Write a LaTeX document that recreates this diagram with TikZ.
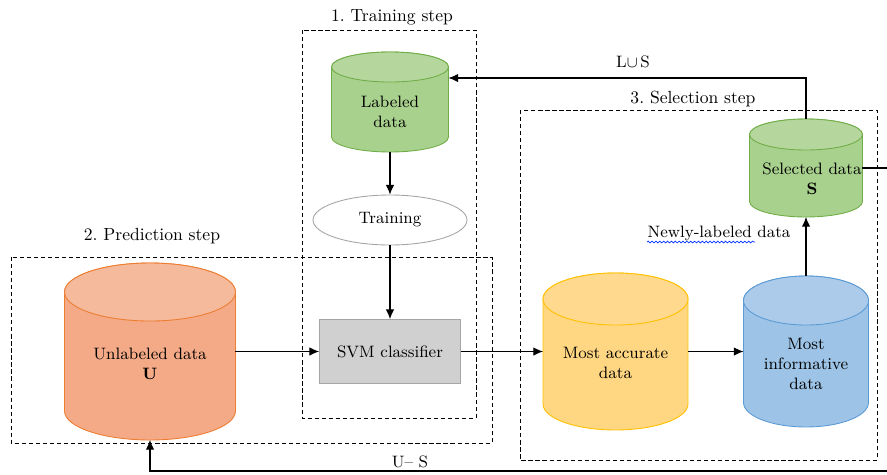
\documentclass[tikz,border=0pt]{standalone}
\usepackage{amssymb}
\usepackage{amsmath}
\usetikzlibrary{shapes.geometric}
\usetikzlibrary{arrows.meta}
\usetikzlibrary{calc}
\usetikzlibrary{decorations.pathmorphing}

\definecolor{greenbody}{RGB}{169,209,142}
\definecolor{greenend}{RGB}{181,215,158}
\definecolor{greenline}{RGB}{112,173,71}
\definecolor{orangebody}{RGB}{244,170,135}
\definecolor{orangeend}{RGB}{245,185,155}
\definecolor{orangeline}{RGB}{237,125,49}
\definecolor{yellowbody}{RGB}{255,214,130}
\definecolor{yellowend}{RGB}{255,218,142}
\definecolor{yellowline}{RGB}{255,192,0}
\definecolor{bluebody}{RGB}{157,195,230}
\definecolor{blueend}{RGB}{172,203,234}
\definecolor{blueline}{RGB}{91,155,213}
\definecolor{svmfill}{RGB}{208,208,208}
\definecolor{svmline}{RGB}{165,165,165}

% cylinder drawn over a named box node: node, x radius, y radius, body, top, line
\newcommand{\datadrum}[6]{%
    \draw[draw=#6, fill=#4, line width=0.5pt]
        ($(#1.north west)+(0,-#3)$) -- ($(#1.south west)+(0,#3)$)
        arc[start angle=180, end angle=360, x radius=#2, y radius=#3]
        -- ($(#1.north east)+(0,-#3)$)
        arc[start angle=0, end angle=180, x radius=#2, y radius=#3] -- cycle;
    \draw[draw=#6, fill=#5, line width=0.5pt]
        ($(#1.north)+(0,-#3)$) ellipse [x radius=#2, y radius=#3];
}

\begin{document}
\begin{tikzpicture}[
        x=0.02cm, y=-0.02cm,
        >={Latex[length=5.5pt,width=4.8pt]}, semithick,
        font=\fontsize{9.4}{11.4}\selectfont,
        drumbox/.style={rectangle, inner sep=0pt, outer sep=0pt},
        drumtext/.style={align=center, inner sep=0pt},
        stepframe/.style={thin, dash pattern=on 2.4pt off 1.6pt},
        steptitle/.style={font=\fontsize{10}{12}\selectfont, inner sep=0pt},
    ]
    \useasboundingbox (0,0) rectangle (887,474);

    % dashed step frames
    \draw[stepframe] (302,30) rectangle (476,418);
    \draw[stepframe] (11,257) rectangle (492,443);
    \draw[stepframe] (520,110) rectangle (877,460);
    \node[steptitle] (train-title) at (392,17) {1.\ Training step};
    \node[steptitle] (pred-title) at (152,236) {2.\ Prediction step};
    \node[steptitle] (sel-title) at (693,99) {3.\ Selection step};

    % data stores
    \node[drumbox, minimum width=2.34cm, minimum height=2.0cm] (lab) at (390,102) {};
    \datadrum{lab}{1.17cm}{0.30cm}{greenbody}{greenend}{greenline}
    \node[drumtext] (lab-txt) at ($(lab.center)+(0,10)$) {Labeled\\data};

    \node[drumbox, minimum width=3.42cm, minimum height=3.54cm] (unlab) at (150,351.5) {};
    \datadrum{unlab}{1.71cm}{0.58cm}{orangebody}{orangeend}{orangeline}
    \node[drumtext] (unlab-txt) at ($(unlab.center)+(0,12)$) {Unlabeled data\\\textbf{U}};

    \node[drumbox, minimum width=2.9cm, minimum height=3.14cm] (acc) at (615.5,351.5) {};
    \datadrum{acc}{1.45cm}{0.52cm}{yellowbody}{yellowend}{yellowline}
    \node[drumtext] (acc-txt) at ($(acc.center)+(0,11)$) {Most accurate\\data};

    \node[drumbox, minimum width=2.5cm, minimum height=3.02cm] (inf) at (806,351.5) {};
    \datadrum{inf}{1.25cm}{0.49cm}{bluebody}{blueend}{blueline}
    \node[drumtext] (inf-txt) at ($(inf.center)+(0,12)$) {Most\\informative\\data};

    \node[drumbox, minimum width=2.26cm, minimum height=1.96cm] (sel) at (806,168) {};
    \datadrum{sel}{1.13cm}{0.31cm}{greenbody}{greenend}{greenline}
    \node[drumtext] (sel-txt) at ($(sel.center)+(6,11)$) {Selected data\\\textbf{S}};

    % training and classifier
    \node[ellipse, draw=svmline, fill=white, line width=0.5pt,
          minimum width=3.08cm, minimum height=1.0cm] (train) at (390,220) {Training};
    \node[rectangle, draw=svmline, fill=svmfill, line width=0.5pt,
          minimum width=2.82cm, minimum height=1.28cm] (svm) at (390,351.5) {SVM classifier};

    % flow
    \draw[->] (lab.south) -- (train.north);
    \draw[->] (train.south) -- (svm.north);
    \draw[->] (unlab.east) -- (svm.west);
    \draw[->] (svm.east) -- (acc.west);
    \draw[->] (acc.east) -- (inf.west);
    \draw[->] (inf.north) -- (sel.south);
    \node[inner sep=0pt] (newly) at (719,233) {Newly-labeled data};
    \draw[blue!80!cyan, line width=0.4pt, decorate,
          decoration={snake, amplitude=0.5pt, segment length=2.2pt}]
         ($(newly.base west)+(0,5)$) -- ++(108,0);

    % feedback loops
    \draw[->] (sel.north) |- ($(lab.east)+(0,-24)$);
    \node[inner sep=0pt] (ls-tag) at (633,62) {L$\cup$\,S};
    \coordinate (selout) at (887,168);
    \draw (sel.east) -- (selout);
    \coordinate (usout) at (887,471);
    \draw[->] (usout) -| (unlab.south);
    \node[inner sep=0pt] (us-tag) at (410,462) {U-- S};
\end{tikzpicture}
\end{document}
